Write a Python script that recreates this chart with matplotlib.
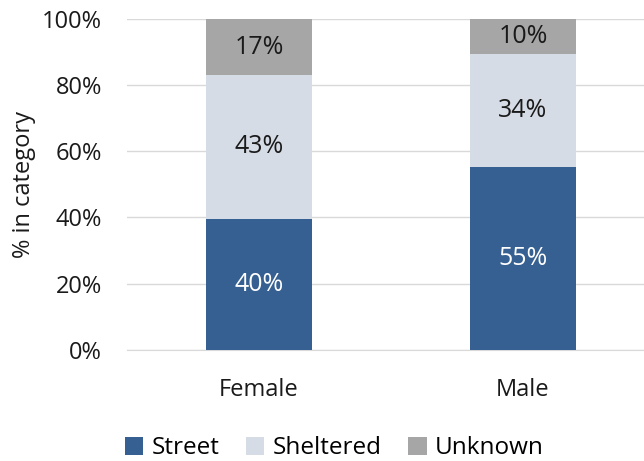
import numpy as np
import matplotlib
matplotlib.use('Agg')
import matplotlib.pyplot as plt
from matplotlib.ticker import PercentFormatter

plt.rcParams['font.family'] = ['Open Sans', 'DejaVu Sans']

categories = ['Female', 'Male']
series = ['Street', 'Sheltered', 'Unknown']
street = [39.6, 55.2]
sheltered = [43.4, 34.2]
unknown = [17.0, 10.6]
labels = {'Street': ['40%', '55%'], 'Sheltered': ['43%', '34%'], 'Unknown': ['17%', '10%']}
colors = {'Street': '#366092', 'Sheltered': '#D6DCE5', 'Unknown': '#A6A6A6'}
text_colors = {'Street': 'white', 'Sheltered': '#1a1a1a', 'Unknown': '#1a1a1a'}


def main():
    fig = plt.figure(figsize=(6.44, 4.61), dpi=100)
    ax = fig.add_axes([127 / 644, 0.241, 517 / 644, 0.718])

    x = np.arange(len(categories))
    bottom = np.zeros(len(categories))
    for name, vals in zip(series, [street, sheltered, unknown]):
        vals = np.array(vals)
        bars = ax.bar(x, vals, 0.40, bottom=bottom, color=colors[name], label=name, zorder=3)
        for i, b in enumerate(bars):
            ax.text(b.get_x() + b.get_width() / 2, bottom[i] + vals[i] / 2, labels[name][i],
                    ha='center', va='center', fontsize=18, color=text_colors[name], zorder=4)
        bottom += vals

    # the original chart is cut off a little on the right
    ax.set_xlim(-0.5, -0.5 + 517 / 264)
    ax.set_ylim(0, 100)
    ax.set_yticks(np.arange(0, 101, 20))
    ax.yaxis.set_major_formatter(PercentFormatter(decimals=0))
    ax.set_xticks(x)
    ax.set_xticklabels(categories)
    ax.grid(axis='y', color='#D9D9D9', linewidth=1, zorder=0)
    for s in ['top', 'right', 'left']:
        ax.spines[s].set_visible(False)
    ax.spines['bottom'].set_color('#D9D9D9')
    ax.tick_params(axis='both', length=0, labelsize=17, colors='#1a1a1a')
    ax.tick_params(axis='x', pad=20)
    ax.tick_params(axis='y', pad=18)
    ax.set_ylabel('% in category', fontsize=17, color='#1a1a1a', labelpad=4)

    fig.legend(*ax.get_legend_handles_labels(), loc='center', bbox_to_anchor=(0.519, 0.028),
               ncol=3, frameon=False, fontsize=17.5, handlelength=0.75, handleheight=0.75,
               handletextpad=0.35, columnspacing=1.1, borderaxespad=0, borderpad=0)

    fig.savefig('out.png', dpi=100)


if __name__ == '__main__':
    main()
